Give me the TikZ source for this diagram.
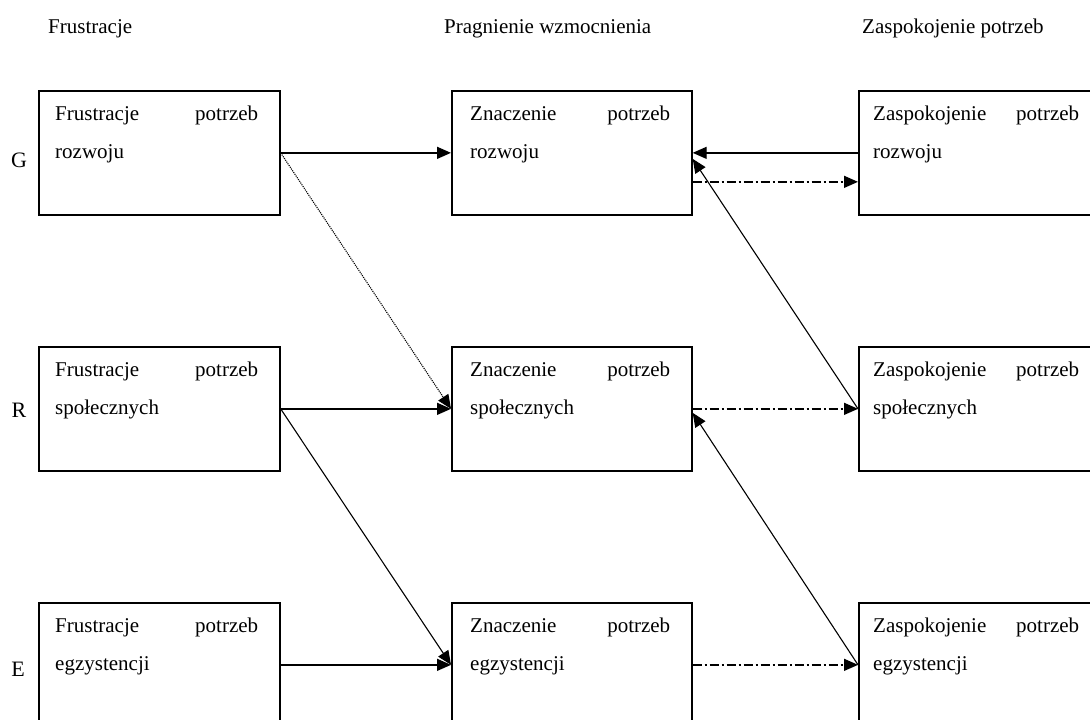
\documentclass[tikz,border=0pt]{standalone}
\usepackage{fontspec}
\setmainfont{Liberation Serif}
\usetikzlibrary{arrows.meta,calc}

% first line spread across the box, second line flush left
\newcommand\needtext[3]{\parbox[t]{#1}{\hbox to #1{#2\hfill potrzeb}#3}}

\tikzset{
  needbox/.style={draw, line width=1.7pt, anchor=north west,
    minimum width=241pt, minimum height=124pt, inner sep=0pt},
  boxlabel/.style={anchor=base west, inner sep=0pt,
    font=\fontsize{21}{38}\selectfont},
  heading/.style={anchor=base west, inner sep=0pt,
    font=\fontsize{21}{24}\selectfont},
  rowmark/.style={inner sep=0pt, font=\fontsize{22}{24}\selectfont},
  link/.style={line width=1.4pt, -{Triangle[length=14pt,width=12pt]}},
  diaglink/.style={line width=1.1pt, -{Triangle[length=14pt,width=12pt]}},
  dashdot link/.style={link, dash pattern=on 9pt off 3pt on 2pt off 3pt},
}

\begin{document}
\begin{tikzpicture}[x=1pt,y=-1pt]
\path[use as bounding box] (0,0) rectangle (1090,720);
\clip (0,0) rectangle (1090,720);

% column headings
\node[heading] (h1) at (48,33) {Frustracje};
\node[heading] (h2) at (444,33) {Pragnienie wzmocnienia};
\node[heading] (h3) at (862,33) {Zaspokojenie potrzeb};

% row letters
\node[rowmark] (markG) at (19,160) {G};
\node[rowmark] (markR) at (19,410) {R};
\node[rowmark] (markE) at (18,669) {E};

% frustration column
\node[needbox] (fg) at (38,90) {};
\node[needbox] (fr) at (38,346) {};
\node[needbox] (fe) at (38,602) {};
\node[boxlabel] (fg-t) at ($(fg.north west)+(17,30)$) {\needtext{203pt}{Frustracje}{rozwoju}};
\node[boxlabel] (fr-t) at ($(fr.north west)+(17,30)$) {\needtext{203pt}{Frustracje}{społecznych}};
\node[boxlabel] (fe-t) at ($(fe.north west)+(17,30)$) {\needtext{203pt}{Frustracje}{egzystencji}};

% importance column
\node[needbox, minimum width=240pt] (mg) at (451,90) {};
\node[needbox, minimum width=240pt] (mr) at (451,346) {};
\node[needbox, minimum width=240pt] (me) at (451,602) {};
\node[boxlabel] (mg-t) at ($(mg.north west)+(19,30)$) {\needtext{200pt}{Znaczenie}{rozwoju}};
\node[boxlabel] (mr-t) at ($(mr.north west)+(19,30)$) {\needtext{200pt}{Znaczenie}{społecznych}};
\node[boxlabel] (me-t) at ($(me.north west)+(19,30)$) {\needtext{200pt}{Znaczenie}{egzystencji}};

% satisfaction column
\node[needbox, minimum width=260pt] (zg) at (858,90) {};
\node[needbox, minimum width=260pt] (zr) at (858,346) {};
\node[needbox, minimum width=260pt] (ze) at (858,602) {};
\node[boxlabel] (zg-t) at ($(zg.north west)+(15,30)$) {\needtext{206pt}{Zaspokojenie}{rozwoju}};
\node[boxlabel] (zr-t) at ($(zr.north west)+(15,30)$) {\needtext{206pt}{Zaspokojenie}{społecznych}};
\node[boxlabel] (ze-t) at ($(ze.north west)+(15,30)$) {\needtext{206pt}{Zaspokojenie}{egzystencji}};

% frustration -> importance
\draw[link] (fg.east) -- (mg.west);
\draw[diaglink, densely dotted] (fg.east) -- (mr.west);
\draw[link] (fr.east) -- (mr.west);
\draw[diaglink] (fr.east) -- (me.west);
\draw[link] (fe.east) -- (me.west);

% importance <-> satisfaction
\draw[link] (zg.west) -- (mg.east);
\draw[dashdot link] ([yshift=-29pt]mg.east) -- ([yshift=-29pt]zg.west);
\draw[diaglink] (zr.west) -- ([yshift=-6pt]mg.east);
\draw[dashdot link] (mr.east) -- (zr.west);
\draw[diaglink] (ze.west) -- ([yshift=-4pt]mr.east);
\draw[dashdot link] (me.east) -- (ze.west);
\end{tikzpicture}
\end{document}
